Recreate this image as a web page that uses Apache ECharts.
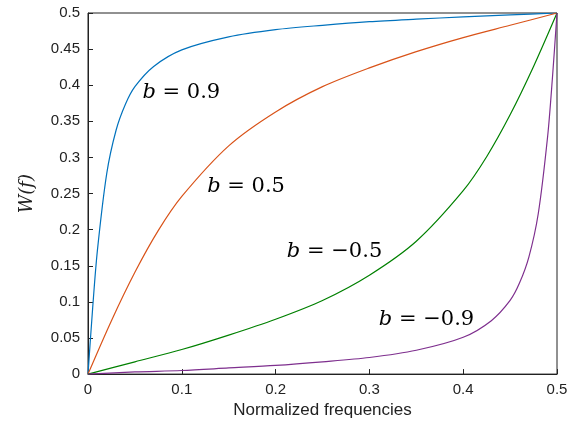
<!DOCTYPE html>
<html>
<head>
<meta charset="utf-8">
<script src="https://cdn.jsdelivr.net/npm/echarts@6/dist/echarts.min.js"></script>
<style>html,body{margin:0;padding:0;background:#fff}#c{width:579px;height:424px}</style>
</head>
<body>
<div id="c"></div>
<script>
// values
const b09 = [[0,0],[0.005,0.092],[0.01,0.171],[0.02,0.278],[0.03,0.338],[0.04,0.374],[0.05,0.398],[0.07,0.426],[0.1,0.449],[0.15,0.467],[0.2,0.477],[0.25,0.483],[0.3,0.488],[0.35,0.4915],[0.4,0.4946],[0.45,0.4973],[0.5,0.5]];
const b05 = [[0,0],[0.025,0.074],[0.05,0.141],[0.075,0.199],[0.1,0.246],[0.15,0.316],[0.2,0.363],[0.25,0.398],[0.3,0.424],[0.35,0.4465],[0.4,0.466],[0.45,0.483],[0.5,0.5]];
const bm05 = [[0,0],[0.05,0.017],[0.1,0.034],[0.15,0.054],[0.2,0.076],[0.25,0.102],[0.3,0.137],[0.35,0.184],[0.4,0.254],[0.425,0.301],[0.45,0.359],[0.475,0.426],[0.5,0.5]];
const bm09 = [[0,0],[0.05,0.003],[0.1,0.005],[0.15,0.0085],[0.2,0.012],[0.25,0.017],[0.3,0.023],[0.35,0.033],[0.4,0.051],[0.43,0.074],[0.45,0.102],[0.46,0.126],[0.47,0.162],[0.48,0.222],[0.49,0.329],[0.495,0.408],[0.5,0.5]];
const labels = [['0.9',0.058,0.39],['0.5',0.127,0.26],['\u22120.5',0.212,0.17],['\u22120.9',0.31,0.075]];

const chart = echarts.init(document.getElementById('c'));
const line = (d, c) => ({type:'line', data:d, smooth:0.3, showSymbol:false, lineStyle:{color:c, width:1.2}, animation:false});
const axisCommon = {
  axisLine:{lineStyle:{color:'#222'}}, axisTick:{inside:true, lineStyle:{color:'#222'}},
  splitLine:{show:false}, axisLabel:{color:'#222', fontSize:15, fontFamily:'Liberation Sans'}
};
chart.setOption({
  animation:false,
  grid:{left:88, right:22, top:13, bottom:49, show:true, borderColor:'#222', borderWidth:1},
  xAxis:Object.assign({type:'value', min:0, max:0.5, interval:0.1,
    name:'Normalized frequencies', nameLocation:'middle', nameGap:27,
    nameTextStyle:{fontSize:17, color:'#222', fontFamily:'Liberation Sans'}}, axisCommon,
    {axisLabel:Object.assign({}, axisCommon.axisLabel, {formatter:v => v === 0 ? '0' : String(+v.toFixed(1))})}),
  yAxis:Object.assign({type:'value', min:0, max:0.5, interval:0.05,
    name:'W(f)', nameLocation:'middle', nameGap:52,
    nameTextStyle:{fontSize:18, color:'#222', fontFamily:'DejaVu Serif', fontStyle:'italic'}}, axisCommon,
    {axisLabel:Object.assign({}, axisCommon.axisLabel, {formatter:v => v === 0 ? '0' : String(+v.toFixed(2))})}),
  series:[line(b09,'#0072BD'), line(b05,'#D95319'), line(bm05,'#008000'), line(bm09,'#7E2F8E')]
});
chart.setOption({graphic: labels.map(l => {
  const p = chart.convertToPixel({gridIndex:0}, [l[1], l[2]]);
  return {type:'text', x:p[0], y:p[1], style:{
    text:'{i|b} = ' + l[0], fontSize:21, fontFamily:'DejaVu Serif', fill:'#000', verticalAlign:'middle',
    rich:{i:{fontStyle:'italic', fontSize:21, fontFamily:'DejaVu Serif'}}}};
})});
</script>
</body>
</html>
